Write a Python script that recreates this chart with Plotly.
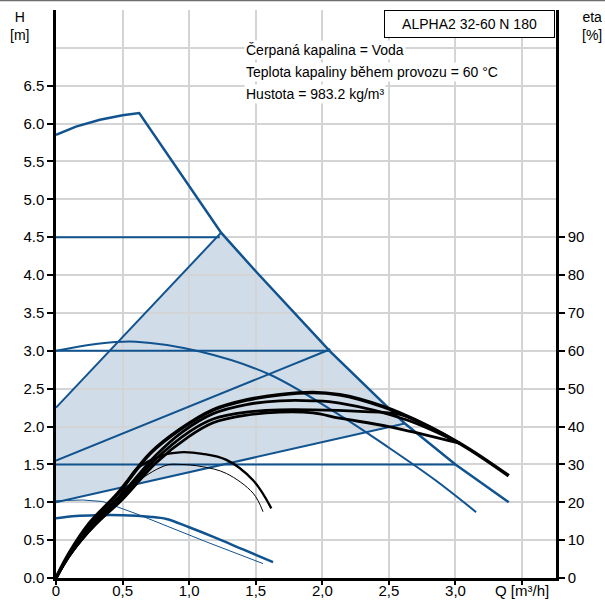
import plotly.graph_objects as go

# ---------------- data ----------------
# Blue pump curves (H in m vs Q in m3/h)
max_q = [0, 0.15, 0.33, 0.5, 0.625, 1.0, 1.24, 1.5, 2.06, 2.5, 2.62, 3.0, 3.4]
max_h = [5.85, 5.96, 6.05, 6.11, 6.14, 5.18, 4.56, 4.05, 2.99, 2.24, 2.04, 1.5, 1.0]

c2_q = [0, 0.3, 0.6, 1.08, 1.6, 2.13, 2.5, 2.85, 3.155]
c2_h = [3.0, 3.09, 3.12, 2.99, 2.69, 2.15, 1.72, 1.29, 0.87]

low1_q = [0, 0.15, 0.3, 0.5, 0.7, 0.83, 1.0, 1.2, 1.4, 1.63]
low1_h = [0.79, 0.82, 0.83, 0.83, 0.81, 0.78, 0.67, 0.53, 0.38, 0.21]

low2_q = [0, 0.2, 0.35, 0.6, 1.125, 1.555]
low2_h = [1.02, 1.03, 1.01, 0.85, 0.48, 0.19]

const_h = [4.5, 3.0, 1.5]
const_end_q = [1.23, 2.06, 3.0]

prop_start_h = [2.25, 1.55, 1.0]
prop_end_q = [1.24, 2.06, 2.62]
prop_end_h = [4.56, 3.02, 2.04]

# Efficiency curves (eta in % vs Q)
e1_q = [0, 0.1, 0.25, 0.46, 0.71, 0.93, 1.18, 1.43, 1.68, 1.93, 2.13, 2.28, 2.58, 3.03, 3.40]
e1_eta = [0, 6.6, 14.4, 22.2, 33, 39.2, 44.4, 47, 48.4, 49, 48.4, 47.2, 43.6, 35.6, 27]

e2_q = [0, 0.1, 0.25, 0.5, 0.75, 0.95, 1.18, 1.43, 1.68, 1.93, 2.13, 2.63, 3.03]
e2_eta = [0, 6.2, 13.6, 22.4, 32.4, 38.6, 43.4, 45.8, 46.8, 46.8, 46.2, 41.8, 35.6]

e3_q = [0, 0.1, 0.25, 0.5, 0.75, 1.0, 1.18, 1.43, 1.68, 1.93, 2.28, 2.58, 2.8, 3.03]
e3_eta = [0, 6, 13, 21.6, 31.4, 38.6, 42, 43.8, 44.4, 44.4, 44, 43.2, 40, 35.6]

e4_q = [0, 0.1, 0.25, 0.5, 0.75, 1.0, 1.18, 1.43, 1.68, 1.93, 2.13, 2.5, 3.03]
e4_eta = [0, 5.8, 12.6, 20.8, 30.4, 37.4, 41, 43, 43.8, 43.6, 42.2, 40, 35.6]

s1_q = [0, 0.1, 0.25, 0.45, 0.6, 0.8, 0.93, 1.1, 1.28, 1.48, 1.617]
s1_eta = [0, 5.8, 12.4, 20, 28.6, 32.4, 33.2, 32.8, 31.2, 25.8, 18.4]

s2_q = [0, 0.1, 0.25, 0.45, 0.62, 0.83, 0.93, 1.1, 1.28, 1.48, 1.555]
s2_eta = [0, 5.6, 12, 19.2, 25.6, 29.8, 30, 29.4, 27.6, 22.4, 17.5]

x_tickvals = [0, 0.5, 1.0, 1.5, 2.0, 2.5, 3.0, 3.5]
x_ticktext = ["0", "0,5", "1,0", "1,5", "2,0", "2,5", "3,0", "Q [m³/h]"]
y_tickvals = [0, 0.5, 1.0, 1.5, 2.0, 2.5, 3.0, 3.5, 4.0, 4.5, 5.0, 5.5, 6.0, 6.5]
eta_tickvals = [0, 10, 20, 30, 40, 50, 60, 70, 80, 90]

title_box = "ALPHA2 32-60 N 180"
info_lines = ["Čerpaná kapalina = Voda",
              "Teplota kapaliny během provozu = 60 °C",
              "Hustota = 983.2 kg/m³"]

# ---------------- style ----------------
BLUE = "#10538f"
FILL = "#d0dce8"
GRID = "#d2d4d6"
FONT = "Arial, Liberation Sans, sans-serif"

fig = go.Figure()

# shaded operating area (proportional pressure region)
poly_q = [0, 0, prop_end_q[0]] + [q for q in max_q if prop_end_q[0] < q < prop_end_q[2]] + [prop_end_q[2]]
poly_h = [prop_start_h[2], prop_start_h[0], prop_end_h[0]] + \
         [h for q, h in zip(max_q, max_h) if prop_end_q[0] < q < prop_end_q[2]] + [prop_end_h[2]]
path = "M " + " L ".join(f"{q},{h}" for q, h in zip(poly_q, poly_h)) + " Z"
fig.add_shape(type="path", path=path, xref="x", yref="y", fillcolor=FILL,
              line=dict(width=0), layer="below")

def blue(x, y, w=2.2, shape="linear"):
    fig.add_trace(go.Scatter(x=x, y=y, mode="lines", line=dict(color=BLUE, width=w, shape=shape),
                             hoverinfo="skip", showlegend=False))

for h, qe in zip(const_h, const_end_q):
    blue([0, qe], [h, h], 2.0)
for h0, qe, he in zip(prop_start_h, prop_end_q, prop_end_h):
    blue([0, qe], [h0, he], 2.0)
blue(max_q, max_h, 2.5)
blue(c2_q, c2_h, 2.0, "spline")
blue(low1_q, low1_h, 2.5, "spline")
blue(low2_q, low2_h, 1.0)

def black(x, y, w):
    fig.add_trace(go.Scatter(x=x, y=y, mode="lines", yaxis="y2",
                             line=dict(color="black", width=w, shape="spline"),
                             hoverinfo="skip", showlegend=False))

black(s2_q, s2_eta, 1.0)
black(s1_q, s1_eta, 2.3)
black(e4_q, e4_eta, 2.8)
black(e3_q, e3_eta, 2.8)
black(e2_q, e2_eta, 2.8)
black(e1_q, e1_eta, 3.6)

# annotations
fig.add_annotation(x=0.5 * (384 - 56) / 500 + 0.5 * (555 - 56) / 500, y=1, xref="paper", yref="paper",
                   xanchor="center", yanchor="top", text=title_box, showarrow=False,
                   font=dict(size=14, color="black", family=FONT), bgcolor="white",
                   bordercolor="black", borderwidth=1, width=167, height=24, borderpad=1)
for i, t in enumerate(info_lines):
    fig.add_annotation(x=(244 - 56) / 500, y=(578 - (50 + 22 * i)) / 568, xref="paper", yref="paper",
                       xanchor="left", yanchor="middle", text=t, showarrow=False,
                       font=dict(size=14, color="black", family=FONT), bgcolor="white", borderpad=1)
fig.add_annotation(x=(19 - 56) / 500, y=(578 - 26) / 568, xref="paper", yref="paper",
                   xanchor="center", yanchor="middle",
                   text="H<br>[m]", showarrow=False, align="center",
                   font=dict(size=14, color="black", family=FONT))
fig.add_annotation(x=(592 - 56) / 500, y=(578 - 26) / 568, xref="paper", yref="paper",
                   xanchor="center", yanchor="middle",
                   text="eta<br>[%]", showarrow=False, align="center",
                   font=dict(size=14, color="black", family=FONT))

# top frame line
fig.add_shape(type="line", xref="paper", yref="paper", x0=-56 / 500, x1=549 / 500,
              y0=1 + 9.5 / 568, y1=1 + 9.5 / 568, line=dict(color="#6e6e6e", width=1.5))

fig.update_layout(
    width=605, height=601,
    margin=dict(l=56, r=49, t=10, b=23, autoexpand=False),
    paper_bgcolor="white", plot_bgcolor="white",
    font=dict(family=FONT, size=15, color="black"),
    showlegend=False,
    xaxis=dict(range=[0, 3.755], tickvals=x_tickvals, ticktext=x_ticktext, automargin=False,
               showgrid=True, gridcolor=GRID, gridwidth=2, zeroline=False,
               showline=True, linecolor="black", linewidth=2.5,
               ticks="outside", ticklen=4, tickcolor="black", tickwidth=1.5,
               ticklabelstandoff=-7,
               tickfont=dict(size=15)),
    yaxis=dict(range=[0, 7.5], tickvals=y_tickvals, tickformat=".1f", automargin=False,
               showgrid=True, gridcolor=GRID, gridwidth=2, zeroline=False,
               showline=True, linecolor="black", linewidth=2.5,
               ticks="outside", ticklen=6, tickcolor="black", tickwidth=1.5,
               tickfont=dict(size=15),
               minor=dict(tickvals=[7.0], showgrid=True, gridcolor=GRID, gridwidth=2, ticks="")),
    yaxis2=dict(range=[0, 150], overlaying="y", side="right", tickvals=eta_tickvals, automargin=False,
                showgrid=False, zeroline=False, showline=True, linecolor="black", linewidth=2.5,
                ticks="outside", ticklen=6, tickcolor="black", tickwidth=1.5,
                tickfont=dict(size=15)),
)

fig.write_html("out.html", config={"displayModeBar": False},
               post_script="document.body.style.margin='0';document.body.style.overflow='hidden';")
